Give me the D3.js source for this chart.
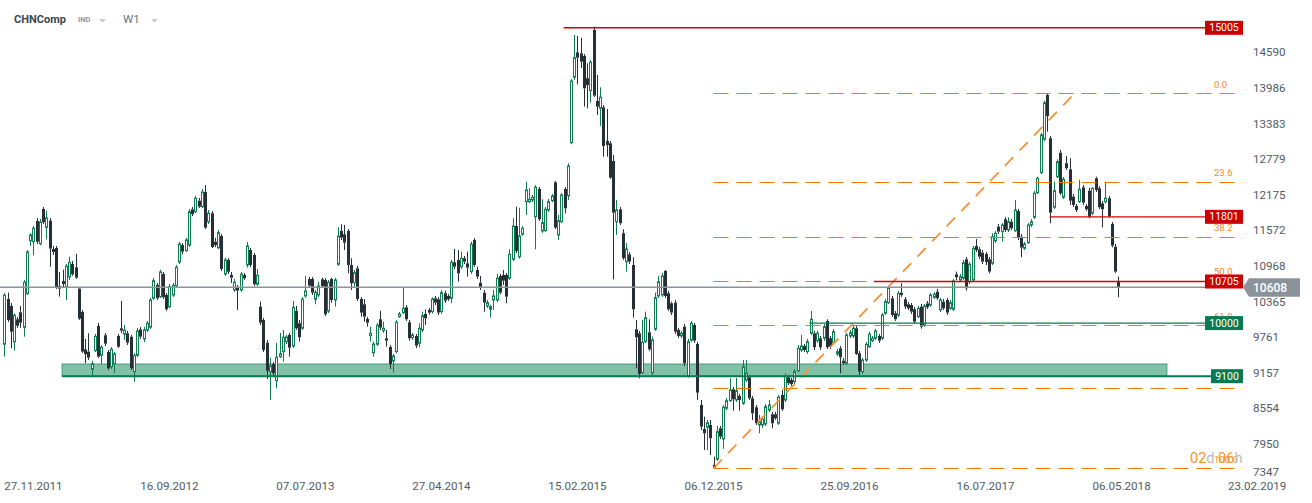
<!DOCTYPE html>
<html><head><meta charset="utf-8">
<script src="https://cdn.jsdelivr.net/npm/d3@7"></script>
<style>
html,body{margin:0;padding:0;background:#fff;}
svg{display:block;font-family:Roboto,"Noto Sans",Arial,sans-serif;}
</style></head><body>
<svg id="chart" width="1312" height="503"></svg>
<script>
// ---------- DATA (weekly candles, CHNComp W1) ----------
const firstWeek = "2011-09-25";
const openValues = [
9641,10409,10290,9685,10065,10184,9929,10499,11397,11380,
11731,11346,11934,11624,11736,11256,11273,10629,10714,10607,
10785,11002,10946,10584,10189,9556,9516,9217,9533,9951,
9454,9794,9510,9261,9312,9782,9912,9811,9827,9770,
9178,9454,9895,9731,9884,9929,10421,10646,10448,10833,
10477,10278,10477,10634,11036,11324,11228,11324,11929,11889,
12075,11973,12223,11719,11862,11380,11277,11477,10833,11070,
10816,10562,10607,10562,10816,10985,11239,11154,10658,10279,
10053,9667,9177,9307,9024,9431,9516,9685,9799,9612,
10205,9997,9912,10460,10748,10748,10404,10477,10743,10731,
10205,10748,10392,10997,11562,11506,11562,10985,10685,10929,
10409,10319,10070,9787,9498,9641,10065,9872,9743,9595,
9358,9516,10109,10177,10268,10014,9754,9782,9658,9884,
10155,10222,10194,10421,10404,10194,10506,10460,10421,11031,
11070,10956,11099,11014,10872,11409,10900,10685,10516,10290,
10234,10392,10392,10799,10816,10816,10760,11082,11646,11126,
11506,12058,12058,12087,11804,12274,11562,11567,11917,12075,
12387,11494,11719,12274,12160,13058,14167,14590,14573,14528,
14150,13940,14969,13765,13641,13658,13087,13048,12748,11719,
11929,11523,11042,11166,10985,9895,9827,9160,9685,9844,
9160,9895,10460,10477,10884,10506,10336,10346,9884,9782,
9940,9109,9714,9968,9646,8612,8205,8234,8273,7595,
7692,8217,8036,8556,8685,8878,8697,8765,8641,9036,
9082,8726,8573,8273,8273,8290,8528,8455,8455,8302,
8782,8697,9082,9036,9007,9194,9544,9612,9516,9827,
9827,9702,9743,9743,10036,9743,9668,9477,9573,9363,
9319,9782,9782,9912,9489,9177,9375,9600,9702,9743,
9782,9743,10166,10346,10421,10166,10138,10516,10404,10319,
10307,10234,10109,10279,9968,10335,10307,10438,10533,10222,
10363,10392,10251,10234,10827,10731,10760,11082,10702,10731,
11307,11251,11194,11172,11082,11014,11397,11635,11550,11760,
11578,11719,11567,11901,11465,11268,11363,11663,11794,12211,
12550,13116,13867,13133,11963,12482,12889,12133,12709,12607,
12143,11985,12058,12302,11985,12245,11862,12455,12285,12031,
12058,12116,11680,11295,10702
];
const highValues = [
10511,10516,10341,10167,10104,10290,10731,11240,11528,11646,
11782,11765,11968,11901,11782,11307,11307,10867,10906,11002,
11126,11053,11172,10613,10222,9731,9827,9358,9816,10002,
9629,9833,9544,9595,9510,9816,10375,9968,9867,9799,
9493,9917,9934,9934,10036,10426,10765,10680,10901,10867,
10511,10663,10680,10985,11375,11358,11443,11934,11968,12155,
12121,12273,12341,11917,11900,11443,11578,11511,11104,11104,
10867,10748,10646,10867,10850,11375,11273,11188,10917,10364,
10087,9713,9414,9341,9663,9832,9884,9799,9833,10375,
10290,10053,10443,10799,10782,10782,10562,10702,10770,10765,
10731,10770,10765,11624,11675,11663,11596,11099,10900,10968,
10443,10404,10104,9940,9685,10002,10211,10024,9884,9629,
9477,10053,10189,10600,10306,10053,9833,9816,9997,10194,
10234,10256,10438,10460,10443,10562,10550,10494,11070,11256,
11239,11211,11138,11211,11380,11443,10956,10799,10562,10392,
10312,10562,10833,10833,10900,10850,11251,11777,11973,11956,
11646,12397,12285,12172,12341,12307,12099,11968,12104,12189,
12409,11832,12206,12307,12709,14138,14884,14867,14838,14562,
14404,14460,15024,14206,13997,13697,13630,13087,12850,12087,
11968,11590,11358,11205,11116,10053,9867,10053,10194,10065,
9770,10516,10799,10850,10900,10545,10364,10392,9920,9867,
9985,9731,10036,10002,9680,8697,8414,8358,8358,7736,
8256,8256,8612,8731,9065,8918,9070,8799,9375,9375,
9120,8765,8612,8443,8409,8629,8697,8494,8494,8782,
8866,9149,9120,9070,9222,9629,9799,9646,9731,10205,
9867,9867,9782,9985,10065,9782,9901,9561,9612,9409,
9833,9884,9951,9951,9527,9409,9680,9850,9782,9901,
9816,10172,10409,10629,10460,10205,10545,10675,10443,10358,
10341,10273,10290,10324,10324,10375,10511,10528,10579,10426,
10409,10426,10392,10748,10872,10833,11070,11121,11036,11307,
11426,11290,11239,11205,11121,11522,11562,11680,11697,11799,
11794,11765,12087,11934,11511,11375,11697,11765,12240,12482,
13223,13770,13895,13172,12397,12777,12934,12477,12833,12794,
12189,12019,12426,12341,12019,12290,12302,12482,12324,12070,
12397,12155,11714,11341,10787
];
const lowValues = [
9431,10019,9573,9533,9917,9922,9770,10477,11307,11150,
11341,11319,11680,11418,10956,11155,10579,10448,10612,10392,
10731,10799,10748,10053,9494,9319,9375,9104,9510,9409,
9307,9612,9205,9221,9150,9578,9833,9714,9629,9205,
9008,9426,9731,9680,9850,9901,10392,10392,10426,10409,
10206,10256,10443,10612,11002,11163,11206,11290,11815,11866,
11951,11951,11595,11680,11273,11290,11256,10883,10799,10833,
10680,10528,10222,10528,10731,10940,10951,10629,10629,9968,
9510,9053,8697,9104,8895,9409,9346,9646,9431,9578,
9884,9685,9884,10431,10596,10477,10319,10443,10596,10120,
10171,10346,10279,10968,11409,11239,10844,10561,10617,10375,
10109,10024,9940,9685,9431,9612,9884,9833,9600,9222,
9160,9488,10087,10155,10036,9702,9714,9578,9590,9850,
9968,10143,10160,10306,10137,10155,10341,10375,10336,10917,
10702,10917,11002,10787,10833,10951,10748,10562,10194,10256,
10092,10222,10358,10488,10646,10336,10731,11053,11188,11092,
11477,11833,12036,12053,11251,11731,11528,11545,11883,12053,
11595,11409,11697,11861,12087,13031,14121,14048,14324,13668,
13641,13736,13833,13528,13341,12821,12821,12443,10743,11494,
11663,11070,10872,11002,10092,9234,9065,9138,9663,9527,
9120,9867,10426,10443,10426,10205,10137,9816,9748,9748,
9273,9075,9680,9663,8697,8189,7850,7850,7765,7538,
7663,8036,7866,8528,8663,8516,8663,8516,8612,9002,
8697,8358,8273,8133,8222,8256,8494,8217,8358,8273,
8511,8663,8951,8935,8968,9172,9510,9510,9477,9799,
9544,9663,9544,9697,9561,9561,9629,9443,9150,9290,
9290,9748,9748,9460,9120,9138,9341,9578,9680,9714,
9663,9714,10138,10324,10104,10036,10104,10443,10239,10222,
10155,9985,10087,9905,9934,10239,10273,10409,10392,10189,
10222,10138,10222,10205,10731,10697,10731,10550,10663,10697,
11205,11087,11002,10985,10844,10985,11358,11511,11380,11545,
11545,11578,11545,11409,11116,11239,11341,11629,11765,12189,
12528,13087,13245,11692,11934,12460,12172,12104,12595,12003,
11968,11883,12036,12003,11901,11777,11832,12223,11934,11624,
12031,11787,11285,10850,10438
];
const closeValues = [
10472,10053,9855,10133,9956,10007,10692,11206,11494,11607,
11380,11714,11709,11782,11262,11206,10601,10584,10663,10963,
11029,10826,10770,10075,9516,9472,9414,9312,9777,9431,
9590,9651,9234,9556,9477,9600,9872,9879,9668,9234,
9454,9867,9770,9884,9997,10392,10719,10421,10867,10438,
10234,10617,10641,10946,11341,11211,11409,11889,11849,12116,
11973,12223,11618,11862,11290,11324,11533,10917,11070,10871,
10770,10692,10550,10828,10760,11307,10985,10658,10811,10007,
9544,9192,9273,9150,9420,9477,9760,9765,9583,10268,
9912,9760,10404,10545,10634,10516,10522,10629,10629,10149,
10692,10392,10731,11477,11448,11363,10985,10675,10855,10409,
10177,10109,10007,9827,9646,9963,9922,9912,9702,9307,
9443,10014,10155,10251,10065,9743,9799,9617,9912,10126,
10082,10177,10409,10346,10177,10516,10380,10404,11031,10956,
10844,11099,11042,10940,11336,10985,10787,10607,10346,10346,
10279,10460,10760,10516,10719,10448,11166,11646,11222,11477,
11607,12257,12099,12133,12302,11760,11702,11929,12058,12155,
11618,11736,12172,11946,12663,14104,14499,14499,14431,13980,
14036,14421,13855,13668,13828,13002,13019,12465,11872,11917,
11692,11099,11256,11042,10234,9760,9138,9675,10092,9556,
9714,10431,10702,10799,10460,10234,10177,9855,9782,9827,
9319,9685,9997,9702,8821,8244,8133,8312,8048,7549,
8160,8075,8573,8685,8866,8709,8855,8697,9261,9149,
8726,8471,8302,8329,8369,8584,8612,8302,8387,8743,
8539,9104,8980,8968,9177,9573,9612,9544,9685,10065,
9590,9827,9590,9940,9590,9600,9855,9516,9420,9319,
9799,9838,9912,9477,9177,9375,9641,9811,9743,9867,
9702,10138,10363,10590,10138,10065,10505,10477,10279,10251,
10194,10024,10251,9940,10290,10268,10477,10489,10421,10392,
10251,10177,10346,10714,10777,10787,11024,10590,10997,11268,
11239,11126,11041,11036,10872,11465,11522,11550,11663,11578,
11719,11607,11917,11455,11279,11341,11663,11719,12201,12455,
13189,13736,13511,11872,12245,12736,12201,12438,12624,12075,
12003,11917,12268,12041,11929,11804,12285,12257,11963,11929,
12116,11816,11312,10872,10608
];
const yTickValues = [7347,7950,8554,9157,9761,10365,10968,11572,12175,12779,13383,13986,14590];
const xTickLabels = ["27.11.2011","16.09.2012","07.07.2013","27.04.2014","15.02.2015","06.12.2015","25.09.2016","16.07.2017","06.05.2018","23.02.2019"];
const lastPrice = 10608;
const redLevelValues = [15005, 11801, 10705];
const redLevelStarts = ["2015-01-16", "2017-12-02", "2016-11-17"];
const greenLevelValues = [10000, 9100];
const greenLevelStarts = ["2016-06-30", "2012-01-28"];
const zoneValues = [9100, 9306];
const zoneDates = ["2012-01-28", "2018-08-12"];
const fibRatios = [0, 23.6, 38.2, 50, 61.8, 78.6, 100];
const fibLabels = ["0.0", "23.6", "38.2", "50.0", "61.8", "78.6", "100.0"];
const fibValues = [13895, 7538];          // swing high, swing low
const fibDates = ["2018-01-25", "2015-12-06"]; // trend line end, start (low)
const symbolName = "CHNComp", symbolType = "IND", intervalName = "W1";

// ---------- SCALES ----------
const parseISO = d3.utcParse("%Y-%m-%d");
const parseLbl = d3.utcParse("%d.%m.%Y");
const start = parseISO(firstWeek);
const candles = openValues.map((o, i) => ({
  date: d3.utcDay.offset(start, 7 * i),
  o, h: highValues[i], l: lowValues[i], c: closeValues[i]
}));
const x = d3.scaleUtc()
  .domain([candles[0].date, candles[candles.length - 1].date])
  .range([4.3, 1118.3]);
const y = d3.scaleLinear().domain([7347, 14590]).range([479.6, 52.3]);

const svg = d3.select("#chart");
const RIGHT = 1243;
const UP = "#0f7d52", DOWN = "#262f36", RED = "#d40000", GREEN = "#0b7a50", ORANGE = "#f07a00";
const crisp = v => Math.round(v) + 0.5;

// ---------- ZONE ----------
const zx0 = x(parseISO(zoneDates[0])), zx1 = x(parseISO(zoneDates[1]));
svg.append("rect")
  .attr("x", zx0).attr("y", y(zoneValues[1]))
  .attr("width", zx1 - zx0).attr("height", y(zoneValues[0]) - y(zoneValues[1]))
  .attr("fill", "#80c1a8").attr("stroke", "#3e9c77").attr("stroke-width", 1);

// ---------- CANDLES ----------
const cg = svg.append("g");
const cs = cg.selectAll("g").data(candles).join("g");
cs.each(function(d) {
  const g = d3.select(this);
  const cx = Math.round(x(d.date));
  const up = d.c >= d.o;
  const col = up ? UP : DOWN;
  const top = y(Math.max(d.o, d.c)), bot = y(Math.min(d.o, d.c));
  const hi = y(Math.max(d.h, d.o, d.c)), lo = y(Math.min(d.l, d.o, d.c));
  g.append("line").attr("x1", cx + 0.5).attr("x2", cx + 0.5).attr("y1", hi).attr("y2", top)
    .attr("stroke", col).attr("stroke-width", 1);
  g.append("line").attr("x1", cx + 0.5).attr("x2", cx + 0.5).attr("y1", bot).attr("y2", lo)
    .attr("stroke", col).attr("stroke-width", 1);
  if (up) {
    g.append("rect").attr("x", cx - 0.5).attr("y", top).attr("width", 2)
      .attr("height", Math.max(bot - top, 1)).attr("fill", "#fff").attr("stroke", col).attr("stroke-width", 1);
  } else {
    g.append("rect").attr("x", cx - 1).attr("y", top).attr("width", 3)
      .attr("height", Math.max(bot - top, 1.2)).attr("fill", col);
  }
});

// ---------- FIBONACCI ----------
const fHigh = fibValues[0], fLow = fibValues[1];
const fStartX = x(parseISO(fibDates[1]));
const fEndX = x(parseISO(fibDates[0]));
const fib = fibRatios.map((r, i) => ({ r, label: fibLabels[i], v: fHigh - r / 100 * (fHigh - fLow) }));
svg.append("g").selectAll("line").data(fib).join("line")
  .attr("x1", fStartX).attr("x2", RIGHT)
  .attr("y1", d => crisp(y(d.v))).attr("y2", d => crisp(y(d.v)))
  .attr("stroke", ORANGE).attr("stroke-width", 1).attr("stroke-dasharray", "15,8");
svg.append("line")
  .attr("x1", fStartX).attr("y1", y(fLow)).attr("x2", fEndX).attr("y2", y(fHigh))
  .attr("stroke", "#f4913a").attr("stroke-width", 1.8).attr("stroke-dasharray", "12,9");

// ---------- LEVEL LINES ----------
redLevelValues.forEach((v, i) => {
  svg.append("line").attr("x1", x(parseISO(redLevelStarts[i]))).attr("x2", 1206)
    .attr("y1", y(v)).attr("y2", y(v)).attr("stroke", RED).attr("stroke-width", 1.4);
});
greenLevelValues.forEach((v, i) => {
  svg.append("line").attr("x1", x(parseISO(greenLevelStarts[i]))).attr("x2", 1212)
    .attr("y1", y(v)).attr("y2", y(v)).attr("stroke", GREEN).attr("stroke-width", i === 1 ? 2 : 1.4);
});
// current price line
svg.append("line").attr("x1", 0).attr("x2", RIGHT).attr("y1", y(lastPrice)).attr("y2", y(lastPrice))
  .attr("stroke", "#8d9398").attr("stroke-width", 1.5);

// ---------- FIB LABELS ----------
svg.append("g").selectAll("text").data(fib).join("text")
  .attr("x", 1214).attr("y", d => y(d.v) - 5.5)
  .attr("fill", "#f28a1e").attr("font-size", "9.5px").text(d => d.label);

// ---------- LEVEL BOXES ----------
function levelBox(v, color) {
  const t = String(v);
  const w = t.length * 6 + 8;
  const yc = y(v);
  svg.append("rect").attr("x", RIGHT - w).attr("y", yc - 7).attr("width", w).attr("height", 14).attr("fill", color);
  svg.append("text").attr("x", RIGHT - w / 2).attr("y", yc + 3.6).attr("text-anchor", "middle")
    .attr("fill", "#fff").attr("font-size", "10.5px").text(t);
}
redLevelValues.forEach(v => levelBox(v, "#cc0000"));
greenLevelValues.forEach(v => levelBox(v, "#0b7a52"));

// ---------- PRICE LABEL ----------
const py = y(lastPrice);
svg.append("path")
  .attr("d", `M${RIGHT},${py} L${RIGHT + 6},${py - 9} L1300,${py - 9} L1300,${py + 9.5} L${RIGHT + 6},${py + 9.5} Z`)
  .attr("fill", "#8a9399");
svg.append("text").attr("x", 1253).attr("y", py + 4.5).attr("fill", "#fff")
  .attr("font-size", "12px").attr("font-weight", 500).text(String(lastPrice));

// ---------- AXES ----------
svg.append("g").selectAll("text").data(yTickValues).join("text")
  .attr("x", 1253).attr("y", d => Math.min(y(d), 472) + 4)
  .attr("fill", "#525b64").attr("font-size", "11.6px").text(d => d);
svg.append("g").selectAll("text").data(xTickLabels).join("text")
  .attr("x", d => x(parseLbl(d))).attr("y", 490).attr("text-anchor", "middle")
  .attr("fill", "#525b64").attr("font-size", "11.6px").text(d => d);

// ---------- COUNTDOWN ----------
const cd = svg.append("text").attr("x", 1190).attr("y", 463).attr("font-size", "14.5px");
cd.append("tspan").attr("fill", "#f7961f").text("02");
cd.append("tspan").attr("fill", "#b9bcbf").text("d");
cd.append("tspan").attr("fill", "#f7961f").text(" 06");
cd.append("tspan").attr("fill", "#b9bcbf").text("h");

// ---------- HEADER ----------
svg.append("text").attr("x", 14).attr("y", 23).attr("font-size", "11px").attr("font-weight", 700)
  .attr("fill", "#3b4650").text(symbolName);
svg.append("text").attr("x", 78).attr("y", 22).attr("font-size", "7.5px").attr("font-weight", 700)
  .attr("fill", "#8c9aa8").text(symbolType);
svg.append("text").attr("x", 123).attr("y", 23).attr("font-size", "11.5px")
  .attr("fill", "#66727e").text(intervalName);
[[99, 19], [151, 19]].forEach(([cx, cy]) => {
  svg.append("path").attr("d", `M${cx},${cy} L${cx + 7},${cy} L${cx + 3.5},${cy + 3.5} Z`).attr("fill", "#c5cbd1");
});
</script>
</body></html>
